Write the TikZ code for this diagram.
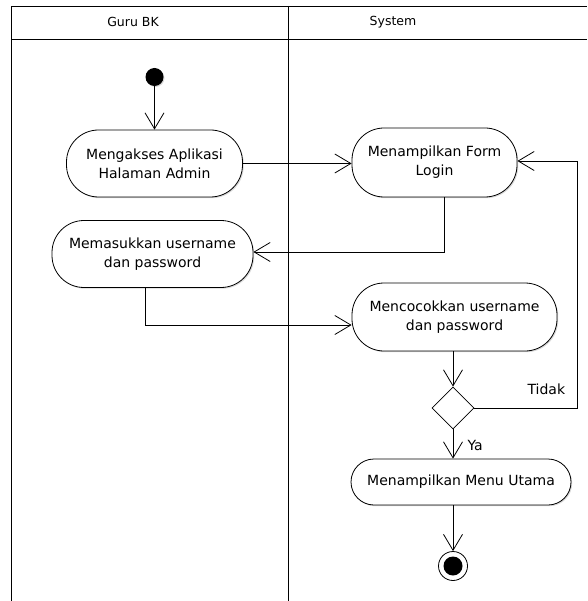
\documentclass[tikz,border=0pt]{standalone}
\usepackage{fontspec}
\setmainfont{DejaVu Sans}
\usetikzlibrary{arrows.meta,shapes.geometric,shadows,calc}
\tikzset{
  lane/.style={line width=0.9pt},
  action/.style={draw, line width=0.8pt, fill=white, rounded corners=32pt,
    align=center, inner sep=0pt, font=\fontsize{14}{19}\selectfont,
    drop shadow={shadow xshift=1.2pt, shadow yshift=-1.2pt, fill=black!30}},
  flow/.style={line width=0.8pt, -{Straight Barb[length=16pt,width=19pt,line width=0.8pt]}},
  header/.style={font=\fontsize{12.5}{15}\selectfont},
  guard/.style={font=\fontsize{14}{17}\selectfont}
}
\begin{document}
\begin{tikzpicture}[x=1pt,y=-1pt]
\useasboundingbox (0,0) rectangle (587,601);
% swimlane frame
\draw[lane] (11,601) -- (11,6) -- (587,6);
\draw[lane] (11,39) -- (587,39);
\draw[lane] (288,6) -- (288,601);
\node[header] (laneA) at (133,22) {Guru BK};
\node[header] (laneB) at (393,22) {System};

% start and end
\node[circle, fill=black, inner sep=0pt, minimum size=18pt,
  drop shadow={shadow xshift=1pt, shadow yshift=-1pt, fill=black!30}] (start) at (154.5,77) {};
\node[circle, draw, line width=0.8pt, fill=white, inner sep=0pt, minimum size=29pt] (end) at (453,566) {};
\node[circle, fill=black, inner sep=0pt, minimum size=19pt] (endin) at (end) {};

% actions
\node[action, minimum width=176pt, minimum height=67pt] (n1) at (154.5,163.5) {Mengakses Aplikasi\\Halaman Admin};
\node[action, minimum width=165pt, minimum height=69pt] (n2) at (434.5,162.5) {Menampilkan Form\\Login};
\node[action, minimum width=201pt, minimum height=67pt] (n3) at (152.5,254) {Memasukkan username\\dan password};
\node[action, minimum width=205pt, minimum height=68pt] (n4) at (454.5,317) {Mencocokkan username\\dan password};
\node[draw, diamond, line width=0.8pt, fill=white, inner sep=0pt,
  minimum width=42pt, minimum height=42pt] (d) at (453,408) {};
\node[action, minimum width=220pt, minimum height=46pt, rounded corners=23pt] (n5) at (461,482) {Menampilkan Menu Utama};

% flows
\draw[flow] (start) -- (n1);
\draw[flow] (n1.east) -- (n1.east -| n2.west);
\draw[flow] (n2.south -| 444,0) -- (444,252) -- (n3.east |- 0,252);
\draw[flow] (n3.south -| 145,0) -- (145,325) -- (n4.west |- 0,325);
\draw[flow] (n4.south -| d.north) -- (d.north);
\draw[flow] (d.east) -- (577,408) -- (577,161) -- (n2.east |- 0,161);
\node[guard, anchor=west] (tidak) at (524,389) {Tidak};
\draw[flow] (d.south) -- (d.south |- n5.north);
\node[guard, anchor=west] (ya) at (464,445) {Ya};
\draw[flow] (d.south |- n5.south) -- (end.north);
\end{tikzpicture}
\end{document}
